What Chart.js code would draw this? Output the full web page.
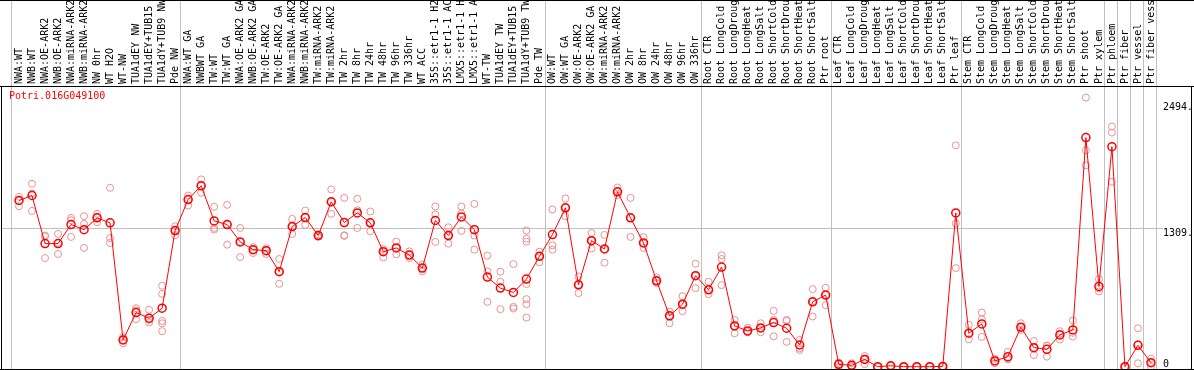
<!DOCTYPE html>
<html><head><meta charset="utf-8">
<script src="https://cdn.jsdelivr.net/npm/chart.js@4.4.1/dist/chart.umd.min.js"></script>
<style>html,body{margin:0;padding:0;background:#fff;overflow:hidden}</style>
</head><body>
<canvas id="c" width="1194" height="370"></canvas>
<script>
const geneTitle = 'Potri.016G049100';

const categories = [
  'NWA:WT','NWB:WT','NWA:OE-ARK2','NWB:OE-ARK2','NWA:miRNA-ARK2','NWB:miRNA-ARK2','NW 0hr','WT H2O','WT-NW',
  'TUA1dEY NW','TUA1dEY+TUB15 NW','TUA1dY+TUB9 NW','Pde NW',
  'NWA:WT GA','NWBWT GA','TW:WT','TW:WT GA','NWA:OE-ARK2 GA','NWB:OE-ARK2 GA','TW:OE-ARK2','TW:OE-ARK2 GA',
  'NWA:miRNA-ARK2 GA','NWB:miRNA-ARK2 GA','TW:miRNA-ARK2','TW:miRNA-ARK2 GA',
  'TW 2hr','TW 8hr','TW 24hr','TW 48hr','TW 96hr','TW 336hr','WT ACC',
  '35S::etr1-1 H2O','35S::etr1-1 ACC','LMX5::etr1-1 H2O','LMX5::etr1-1 ACC','WT-TW',
  'TUA1dEY TW','TUA1dEY+TUB15 TW','TUA1dY+TUB9 TW','Pde TW',
  'OW:WT','OW:WT GA','OW:OE-ARK2','OW:OE-ARK2 GA','OW:miRNA-ARK2','OW:miRNA-ARK2 GA',
  'OW 2hr','OW 8hr','OW 24hr','OW 48hr','OW 96hr','OW 336hr',
  'Root CTR','Root LongCold','Root LongDrought','Root LongHeat','Root LongSalt','Root ShortCold','Root ShortDrought','Root ShortHeat','Root ShortSalt','Ptr root',
  'Leaf CTR','Leaf LongCold','Leaf LongDrought','Leaf LongHeat','Leaf LongSalt','Leaf ShortCold','Leaf ShortDrought','Leaf ShortHeat','Leaf ShortSalt','Ptr leaf',
  'Stem CTR','Stem LongCold','Stem LongDrought','Stem LongHeat','Stem LongSalt','Stem ShortCold','Stem ShortDrought','Stem ShortHeat','Stem ShortSalt',
  'Ptr shoot','Ptr xylem','Ptr phloem','Ptr fiber','Ptr vessel','Ptr fiber vessel'
];

const meanValues = [
  1569,1616,1162,1162,1342,1294,1405,1358,253,511,458,552,1285,
  1578,1708,1376,1342,1178,1105,1095,897,1323,1408,1238,1556,
  1361,1452,1358,1086,1121,1054,931,1380,1238,1414,1294,846,742,701,827,1042,
  1247,1500,773,1190,1111,1651,1405,1168,811,480,590,859,
  726,941,385,338,366,417,363,205,612,676,
  22,13,69,0,9,0,0,0,3,1452,
  316,404,54,95,373,180,164,300,347,2163,758,2077,0,202,38
];

const replicateValues = [
  [1604,1569,1515],[1727,1635,1471],[1238,1231,1026],[1253,1169,1064],[1405,1383,1225],[1421,1348,1121],
  [1443,1411,1364],[1689,1215,1168],[278,253,221],[552,533,448],[537,442,417],[764,688,432,410,335],[1326,1285,1241],
  [1616,1578,1522],[1768,1708,1642],[1509,1310,1294],[1528,1342,1152],[1310,1178,1035],[1130,1105,1073],
  [1118,1095,1064],[1017,897,783],[1395,1323,1253],[1474,1408,1339],[1250,1238,1226],[1673,1556,1443],
  [1594,1241,1235],[1585,1477,1310],[1465,1358,1279],[1111,1086,1032],[1181,1121,1061],[1089,1054,1026],
  [963,931,900],[1512,1436,1178],[1316,1238,1162],[1512,1446,1282],[1537,1238,1105],[1048,900,612],
  [897,802,543],[969,565,549],[1285,1209,1181,780,638,590,464],[1086,1042,985],
  [1484,1146,1105],[1588,1500,1421],[852,773,695],[1263,1190,1115],[1244,1111,982],[1692,1651,1620],
  [1594,1405,1225],[1222,1168,1121],[843,811,789],[521,480,410],[666,590,524],[972,859,742],
  [802,726,685],[1051,1017,770],[442,385,316],[369,338,325],[410,366,325],[527,442,287],[442,432,234],
  [253,174,158],[732,612,474],[745,676,581],
  [38,22,0],[32,13,0],[101,69,25],[0,0,0],[9,9,9],[0,0,0],[0,0,0],[0,0,0],[3,3,3],[2090,1351,931],
  [395,316,259],[511,448,281],[76,54,32],[139,76,70],[410,373,347],[243,180,110],[199,198,95],[335,310,256],
  [436,320,284],[2541,2043,1901],[827,740,710],[2267,2210,1746],[0,0,0],[363,211,32],[76,38,0]
];

const yTickValues = [0, 1309, 2494];
const yTickLabels = ['0', '1309.', '2494.'];
// indices of the last category of each group (separator lines follow them)
const groupEnds = [-1, 12, 40, 52, 62, 72, 83, 84, 85, 86, 87];

const MONO = "'DejaVu Sans Mono', 'Liberation Mono', monospace";

const meanPoints = meanValues.map((v, i) => ({ x: i, y: v }));
const repPoints = [];
replicateValues.forEach((arr, i) => arr.forEach(v => repPoints.push({ x: i, y: v })));

const framePlugin = {
  id: 'frame',
  beforeDatasetsDraw(chart) {
    const { ctx, chartArea, scales: { x } } = chart;
    ctx.save();
    ctx.strokeStyle = '#c0c0c0';
    ctx.lineWidth = 1;
    groupEnds.forEach(g => {
      const px = Math.round(x.getPixelForValue(g + 0.4)) + 0.5;
      ctx.beginPath();
      ctx.moveTo(px, 0);
      ctx.lineTo(px, chartArea.bottom);
      ctx.stroke();
    });
    ctx.restore();
  },
  afterDraw(chart) {
    const { ctx, width, height } = chart;
    ctx.save();
    ctx.fillStyle = '#000';
    ctx.fillRect(0, 0, width, 1);
    ctx.fillRect(0, 86, width, 1);
    ctx.fillRect(1, 86, 1, height - 86);
    ctx.fillRect(0, 369, width, 1);
    ctx.fillRect(1191, 86, 1, height - 86);
    ctx.fillStyle = '#ff0000';
    ctx.font = '10px ' + MONO;
    ctx.textBaseline = 'top';
    ctx.textAlign = 'left';
    ctx.fillText(geneTitle, 9, 91);
    ctx.restore();
  }
};

new Chart(document.getElementById('c'), {
  type: 'scatter',
  data: {
    datasets: [
      {
        label: 'mean',
        data: meanPoints,
        showLine: true,
        borderColor: '#ff0000',
        borderWidth: 1,
        tension: 0,
        pointRadius: 4,
        pointBorderWidth: 1.5,
        pointBorderColor: '#ff0000',
        pointBackgroundColor: 'rgba(0,0,0,0)'
      },
      {
        label: 'replicates',
        data: repPoints,
        showLine: false,
        pointRadius: 3.5,
        pointBorderWidth: 1,
        pointBorderColor: '#ec9090',
        pointBackgroundColor: 'rgba(0,0,0,0)'
      }
    ]
  },
  options: {
    responsive: false,
    devicePixelRatio: 1,
    animation: false,
    events: [],
    layout: { autoPadding: false, padding: { left: 1, right: 2, top: 0, bottom: 1 } },
    plugins: { legend: { display: false }, tooltip: { enabled: false }, title: { display: false } },
    scales: {
      x: {
        type: 'linear',
        position: 'top',
        bounds: 'data',
        min: -1.3834,
        max: 87.772,
        afterBuildTicks: s => { s.ticks = categories.map((_, i) => ({ value: i })); },
        afterFit: s => { s.height = 87; s.paddingLeft = 0; s.paddingRight = 0; },
        grid: { display: false, drawTicks: false },
        border: { display: false },
        ticks: {
          autoSkip: false,
          minRotation: 90,
          maxRotation: 90,
          padding: 3,
          labelOffset: 12,
          color: '#000',
          font: { family: MONO, size: 10 },
          callback: v => categories[v] ?? ''
        }
      },
      y: {
        type: 'linear',
        position: 'right',
        bounds: 'data',
        min: -21.7,
        max: 2640.4,
        afterBuildTicks: s => { s.ticks = yTickValues.map(v => ({ value: v })); },
        afterFit: s => { s.width = 31; s.paddingTop = 0; s.paddingBottom = 0; },
        grid: {
          color: c => (c.tick && c.tick.value === 1309) ? '#c0c0c0' : 'rgba(0,0,0,0)',
          tickLength: 2,
          lineWidth: 1
        },
        border: { display: false },
        ticks: {
          align: 'start',
          padding: 0,
          color: '#000',
          font: c => ({ family: MONO, size: 10, lineHeight: (c.tick && c.tick.value === 0) ? '15px' : 1.2 }),
          callback: v => {
            const k = yTickValues.indexOf(v);
            const lbl = k >= 0 ? yTickLabels[k] : '';
            return v === 0 ? [lbl, ''] : lbl;
          }
        }
      }
    }
  },
  plugins: [framePlugin]
});
</script>
</body></html>
